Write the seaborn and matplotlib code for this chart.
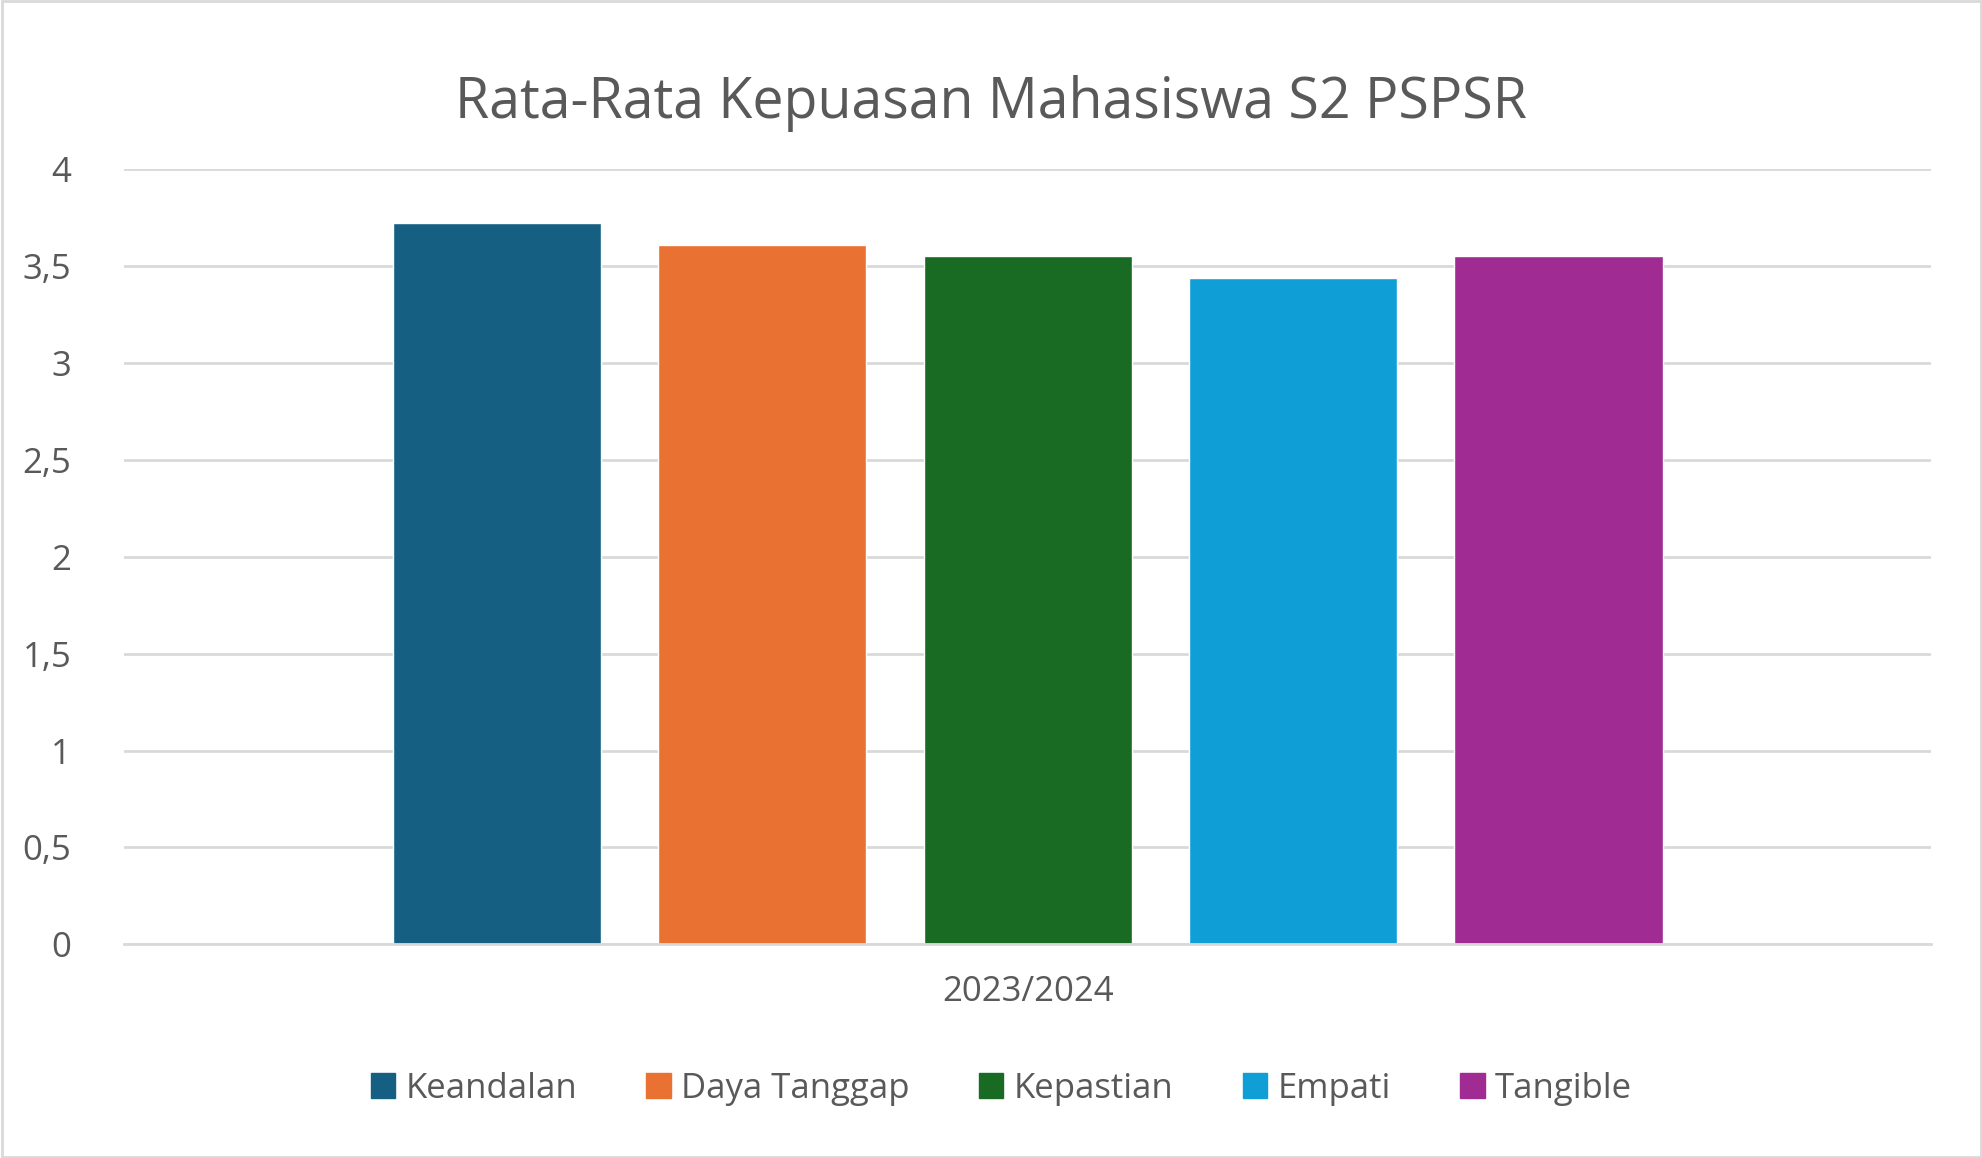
import matplotlib
matplotlib.use("Agg")
import matplotlib.pyplot as plt
import seaborn as sns
import pandas as pd
from matplotlib.patches import Rectangle

categories = ["Keandalan", "Daya Tanggap", "Kepastian", "Empati", "Tangible"]
values = [3.72, 3.61, 3.55, 3.44, 3.55]
year = "2023/2024"
colors = ["#156082", "#E97132", "#196B24", "#0F9ED5", "#A02B93"]
ytick_vals = [0, 0.5, 1, 1.5, 2, 2.5, 3, 3.5, 4]
ytick_labels = ["0", "0,5", "1", "1,5", "2", "2,5", "3", "3,5", "4"]

sns.set_theme(style="white")
plt.rcParams['font.family'] = ['Open Sans', 'DejaVu Sans']
txt = "#595959"

df = pd.DataFrame({"year": [year]*len(categories), "cat": categories, "val": values})
fig = plt.figure(figsize=(19.83, 11.58), dpi=100)
ax = fig.add_axes([0.0625, 0.1845, 0.9115, 0.6695])
sns.barplot(data=df, x="year", y="val", hue="cat", hue_order=categories,
            palette=colors, width=0.734, gap=0.215, ax=ax, saturation=1, legend=False)
ax.set_xlim(-0.5, 0.5)
ax.set_ylim(0, 4)
ax.set_yticks(ytick_vals)
ax.set_yticklabels(ytick_labels)
ax.yaxis.grid(True, color="#D9D9D9", linewidth=2)
ax.set_axisbelow(True)
for s in ["top", "right", "left"]:
    ax.spines[s].set_visible(False)
ax.spines["bottom"].set_color("#D9D9D9")
ax.spines["bottom"].set_linewidth(2)
ax.tick_params(axis="y", length=0, labelsize=25, labelcolor=txt, pad=38)
ax.tick_params(axis="x", length=0, labelsize=25, labelcolor=txt, pad=22)
ax.set_xlabel("")
ax.set_ylabel("")
fig.suptitle("Rata-Rata Kepuasan Mahasiswa S2 PSPSR", y=0.935, fontsize=40, color=txt)

handles = [Rectangle((0, 0), 1, 1, color=c) for c in colors]
fig.legend(handles, categories, loc="center", bbox_to_anchor=(0.505, 0.06), ncol=5,
           frameon=False, fontsize=25, labelcolor=txt, handlelength=0.7, handleheight=0.7,
           handletextpad=0.3, columnspacing=2.0)
fig.add_artist(Rectangle((0.001, 0.001), 0.998, 0.998, transform=fig.transFigure,
                         fill=False, edgecolor="#D9D9D9", linewidth=2))
fig.savefig("out.png", dpi=100)
